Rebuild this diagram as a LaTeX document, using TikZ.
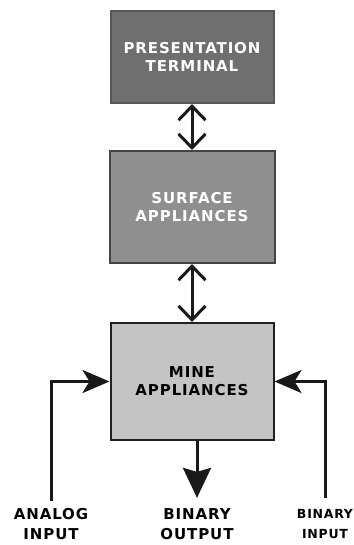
\documentclass[tikz,border=0pt]{standalone}
\usepackage{fontspec}
\setmainfont{DejaVu Sans}
\newfontfamily\capsfont[LetterSpace=6]{DejaVu Sans}
\usetikzlibrary{arrows.meta, positioning}
\definecolor{termgray}{RGB}{111,111,111}
\definecolor{termedge}{RGB}{88,88,88}
\definecolor{surfgray}{RGB}{143,143,143}
\definecolor{surfedge}{RGB}{68,68,68}
\definecolor{minegray}{RGB}{196,196,196}
\definecolor{mineedge}{RGB}{32,32,32}

\begin{document}
\begin{tikzpicture}[x=1pt, y=-1pt,
  blk/.style={draw, line width=2pt, minimum width=163pt, align=center, font={\capsfont\bfseries\fontsize{15}{18}\selectfont}},
  sig/.style={align=center, font={\capsfont\bfseries\fontsize{15}{20}\selectfont}},
  bothway/.style={{Straight Barb[length=14pt,width=27pt]}-{Straight Barb[length=14pt,width=27pt]}, line width=3pt, draw=black!90},
  feed/.style={-{Stealth[length=27pt,width=23pt,inset=7pt]}, line width=3pt, draw=black!90}
]
  \useasboundingbox (0,0) rectangle (353,545);

  \node[blk, fill=termgray, draw=termedge, text=white, minimum height=92pt] (term) at (192,57) {PRESENTATION\\TERMINAL};
  \node[blk, fill=surfgray, draw=surfedge, text=white, minimum height=112pt, minimum width=165pt] (surf) at (192,207) {SURFACE\\APPLIANCES};
  \node[blk, fill=minegray, draw=mineedge, minimum height=117pt] (mine) at (192,381.5) {MINE\\APPLIANCES};

  \node[sig] (analog) at (51,524) {ANALOG\\INPUT};
  \node[sig] (boutput) at (197,524) {BINARY\\OUTPUT};
  \node[sig, font={\capsfont\bfseries\fontsize{12.5}{20}\selectfont}] (binput) at (325,524) {BINARY\\INPUT};

  \draw[bothway] (term.south) -- (surf.north);
  \draw[bothway] (surf.south) -- (mine.north);

  % inputs and output of the mine level
  \draw[feed, shorten <=4pt] (analog.north) |- (mine.west);
  \draw[feed, shorten <=8pt] (binput.north) |- (mine.east);
  \draw[feed, -{Stealth[length=30pt,width=28pt,inset=4pt]}, shorten >=7pt] (boutput.north |- mine.south) -- (boutput.north);
\end{tikzpicture}
\end{document}
